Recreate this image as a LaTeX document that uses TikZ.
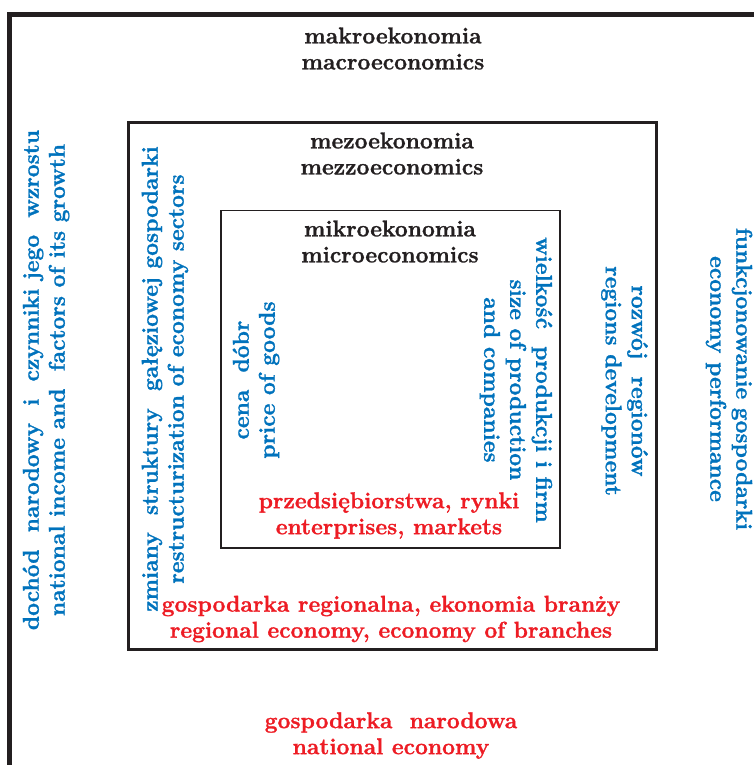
\documentclass[tikz,border=0pt]{standalone}
\usepackage{fontspec}
\setmainfont{Latin Modern Roman}[BoldFeatures={FakeBold=1.2}]

\definecolor{econblue}{RGB}{0,114,188}
\definecolor{econred}{RGB}{237,28,36}
\definecolor{econdark}{RGB}{35,31,32}

\tikzset{
    econtext/.style={font=\bfseries\fontsize{13}{14.8}\selectfont, align=center, inner sep=0pt},
    darktext/.style={econtext, text=econdark},
    bluetext/.style={econtext, text=econblue},
    redtext/.style={econtext, text=econred},
    frame/.style={draw=econdark},
}

\begin{document}
\begin{tikzpicture}[x=0.02cm, y=-0.02cm]
    \useasboundingbox (0,0) rectangle (754,765);

    % outer frame, runs off the page at right and bottom
    \draw [frame, line width=2.6pt]
        (9.5,765) -- (9.5,14.5) -- (754,14.5)
        ;

    \draw [frame, line width=2pt]
        (128.5,122.5) rectangle (656.5,649.5)
        ;

    \draw [frame, line width=1.1pt]
        (221,210.5) rectangle (560,548)
        ;

    % headings
    \node [darktext] (macro) at (393,48.5) {makroekonomia\\macroeconomics};
    \node [darktext] (mezzo) at (392,153.5) {mezoekonomia\\mezzoeconomics};
    \node [darktext] (micro) at (390,241.5) {mikroekonomia\\microeconomics};

    % left side
    \node [bluetext, rotate=90] (income) at (46,380)
        {dochód\ \ narodowy\ \ i\ \ czynniki\ jego\ \ wzrostu\\national income and\ \ factors of its growth};
    \node [bluetext, rotate=90] (sectors) at (165,379)
        {zmiany\ \ struktury\ \ gałęziowej gospodarki\\restructurization of economy sectors};
    \node [bluetext, rotate=90] (price) at (256,380)
        {cena\ \ dóbr\\price of goods};

    % right side
    \node [bluetext, rotate=-90] (size) at (516,380)
        {wielkość\ \ produkcji i\ firm\\size of production\\and companies};
    \node [bluetext, rotate=-90] (regions) at (624.5,381)
        {rozwój\ \ regionów\\regions development};
    \node [bluetext, rotate=-90] (performance) at (729,379)
        {funkcjonowanie gospodarki\\economy performance};

    % levels
    \node [redtext] (firms) at (389,515.5)
        {przedsiębiorstwa, rynki\\enterprises, markets};
    \node [redtext] (branches) at (391,619)
        {gospodarka regionalna, ekonomia branży\\regional economy, economy of branches};
    \node [redtext] (nation) at (391,735.5)
        {gospodarka\ \ narodowa\\national economy};
\end{tikzpicture}
\end{document}
